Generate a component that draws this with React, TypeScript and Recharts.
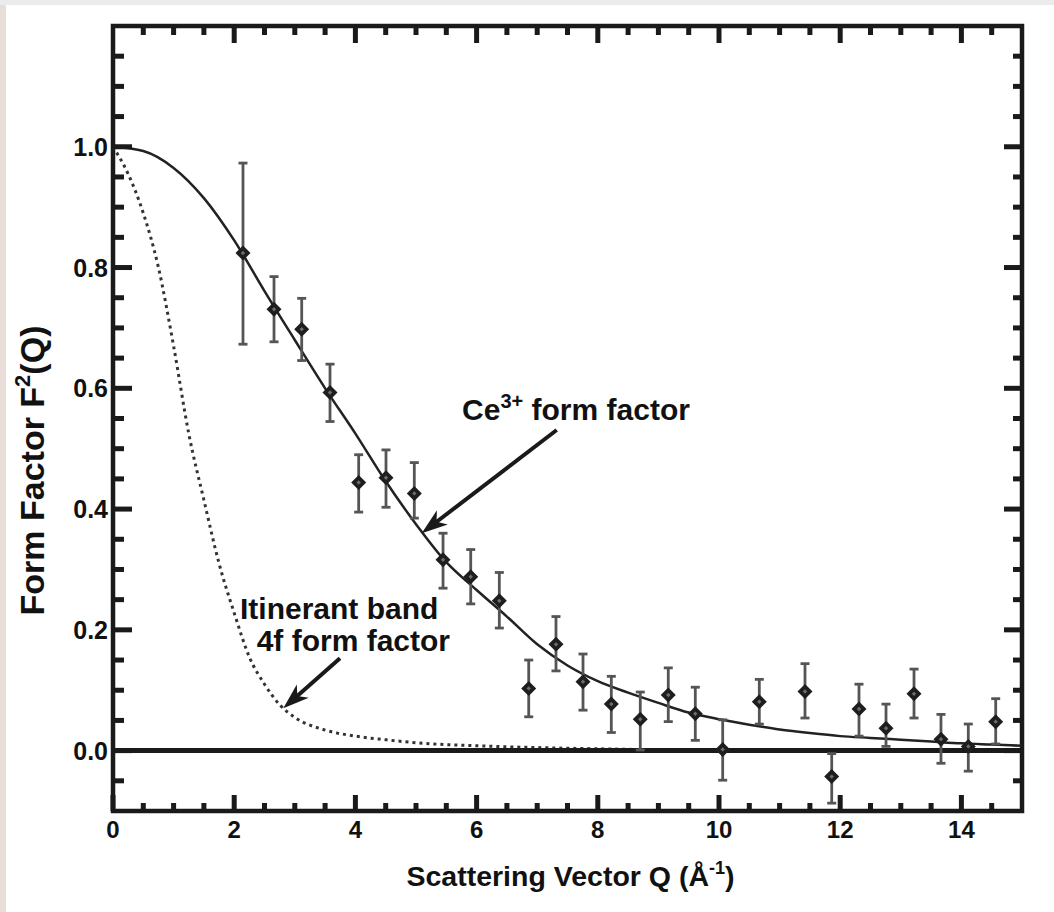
import React from 'react';
import {
  ComposedChart,
  Line,
  Scatter,
  XAxis,
  YAxis,
  ErrorBar,
  ReferenceLine,
  ReferenceArea,
  ReferenceDot,
  Label,
} from 'recharts';

// ---- measured data points (Q in 1/Å, F^2(Q)) ----
const qPts = [2.145, 2.657, 3.114, 3.581, 4.054, 4.505, 4.972, 5.446, 5.903, 6.375, 6.86, 7.31, 7.756, 8.223, 8.701, 9.163, 9.609, 10.061, 10.665, 11.419, 11.86, 12.31, 12.756, 13.218, 13.663, 14.114, 14.566];
const fPts = [0.824, 0.731, 0.698, 0.593, 0.444, 0.452, 0.426, 0.316, 0.288, 0.248, 0.103, 0.176, 0.114, 0.077, 0.052, 0.092, 0.061, 0.002, 0.081, 0.098, -0.043, 0.069, 0.037, 0.094, 0.019, 0.007, 0.048];
const fHi = [0.973, 0.785, 0.749, 0.64, 0.49, 0.498, 0.477, 0.36, 0.333, 0.295, 0.15, 0.222, 0.16, 0.123, 0.097, 0.137, 0.105, 0.051, 0.118, 0.144, -0.005, 0.11, 0.077, 0.135, 0.06, 0.044, 0.086];
const fLo = [0.673, 0.677, 0.646, 0.545, 0.395, 0.403, 0.385, 0.269, 0.243, 0.203, 0.056, 0.132, 0.067, 0.03, 0.001, 0.048, 0.017, -0.049, 0.044, 0.054, -0.087, 0.024, 0.007, 0.054, -0.021, -0.034, 0.011];

// ---- Ce3+ form factor curve ----
const qCe = [0, 0.5, 1, 1.5, 2, 2.5, 3, 3.5, 4, 4.5, 5, 5.5, 6, 6.5, 7, 7.5, 8, 8.5, 9, 9.5, 10, 10.5, 11, 11.5, 12, 12.5, 13, 13.5, 14, 14.5, 15];
const fCe = [1.0, 0.993, 0.965, 0.915, 0.845, 0.761, 0.68, 0.6, 0.525, 0.446, 0.375, 0.312, 0.266, 0.222, 0.176, 0.141, 0.115, 0.096, 0.079, 0.063, 0.052, 0.043, 0.035, 0.029, 0.024, 0.021, 0.018, 0.015, 0.012, 0.01, 0.008];

// ---- itinerant band 4f form factor curve ----
const qItin = [0, 0.25, 0.5, 0.75, 1, 1.25, 1.5, 1.75, 2, 2.25, 2.5, 2.75, 3, 3.5, 4, 4.5, 5, 6, 7, 8, 8.6];
const fItin = [1.0, 0.955, 0.89, 0.8, 0.67, 0.525, 0.415, 0.31, 0.228, 0.155, 0.11, 0.076, 0.055, 0.034, 0.024, 0.018, 0.013, 0.008, 0.005, 0.003, 0.002];

// ---- tick labels ----
const xTickLabels = [0, 2, 4, 6, 8, 10, 12, 14];
const yTickLabels = [0, 0.2, 0.4, 0.6, 0.8, 1.0];

// ---- annotations (data coordinates) ----
const ceText = { q: 5.76, v: 0.5475 };
const ceArrow = { q1: 7.322, v1: 0.531, q2: 5.094, v2: 0.36 };
const itinText1 = { q: 2.096, v: 0.2175 };
const itinText2 = { q: 2.371, v: 0.1656 };
const itinArrow = { q1: 3.746, v1: 0.153, q2: 2.81, v2: 0.07 };

const xTickVals = Array.from({ length: 30 }, (_, i) => i * 0.5);
const yTickVals = Array.from({ length: 25 }, (_, i) => Math.round((-0.05 + i * 0.05) * 100) / 100);

const ptData = qPts.map((q, i) => ({ q, f: fPts[i], err: [fPts[i] - fLo[i], fHi[i] - fPts[i]] }));
const ceData = qCe.map((q, i) => ({ q, ce: fCe[i] }));
const itinData = qItin.map((q, i) => ({ q, itin: fItin[i] }));

const INK = '#1a1a1a';
const FONT = '"Liberation Sans", Arial, Helvetica, sans-serif';
const TICK_W = 5;

const near = (arr: number[], v: number) => arr.some((a) => Math.abs(a - v) < 1e-6);

function BottomTick(props: any) {
  const { x, y, payload } = props;
  const v = payload.value;
  const major = near(xTickLabels, v);
  return (
    <g>
      <line x1={x} x2={x} y1={y} y2={y - (major ? 16 : 8)} stroke={INK} strokeWidth={TICK_W} />
      {major && (
        <text x={x} y={y + 27} textAnchor="middle" fontFamily={FONT} fontWeight="bold" fontSize={24} fill="#111">
          {v}
        </text>
      )}
    </g>
  );
}

function TopTick(props: any) {
  const { x, y, payload } = props;
  const v = payload.value;
  if (v === 0) return <g />;
  const major = near(xTickLabels, v);
  return <line x1={x} x2={x} y1={y} y2={y + (major ? 17 : 9)} stroke={INK} strokeWidth={TICK_W} />;
}

function LeftTick(props: any) {
  const { x, y, payload } = props;
  const v = payload.value;
  const major = near(yTickLabels, v);
  return (
    <g>
      <line x1={x} x2={x + (major ? 19 : 11)} y1={y} y2={y} stroke={INK} strokeWidth={TICK_W} />
      {major && (
        <text x={x - 5} y={y} dy="0.36em" textAnchor="end" fontFamily={FONT} fontWeight="bold" fontSize={25} fill="#111">
          {v.toFixed(1)}
        </text>
      )}
    </g>
  );
}

function RightTick(props: any) {
  const { x, y, payload } = props;
  const v = payload.value;
  const major = near(yTickLabels, v);
  return <line x1={x} x2={x - (major ? 18 : 9)} y1={y} y2={y} stroke={INK} strokeWidth={TICK_W} />;
}

function Diamond(props: any) {
  const { cx, cy } = props;
  if (cx == null || cy == null) return <g />;
  const s = 7.5;
  const t = 2.2;
  return (
    <g>
      <polygon points={`${cx},${cy - s} ${cx + s},${cy} ${cx},${cy + s} ${cx - s},${cy}`} fill="#1e1e1e" />
      <polygon points={`${cx},${cy - t} ${cx + t},${cy} ${cx},${cy + t} ${cx - t},${cy}`} fill="#6e6e6e" />
    </g>
  );
}

function Arrow(props: any) {
  const { x1, y1, x2, y2 } = props;
  const dx = x1 - x2;
  const dy = y1 - y2;
  const len = Math.sqrt(dx * dx + dy * dy) || 1;
  const ux = dx / len;
  const uy = dy / len;
  const nx = -uy;
  const ny = ux;
  const L = 26;
  const W = 9;
  const p1 = `${x2},${y2}`;
  const p2 = `${x2 + ux * L + nx * W},${y2 + uy * L + ny * W}`;
  const p3 = `${x2 + ux * L * 0.72},${y2 + uy * L * 0.72}`;
  const p4 = `${x2 + ux * L - nx * W},${y2 + uy * L - ny * W}`;
  return (
    <g>
      <line x1={x1} y1={y1} x2={x2 + ux * L * 0.6} y2={y2 + uy * L * 0.6} stroke={INK} strokeWidth={4} />
      <polygon points={`${p1} ${p2} ${p3} ${p4}`} fill={INK} />
    </g>
  );
}

function XTitle(props: any) {
  const vb = props.viewBox || { x: 105, y: 803, width: 909, height: 80 };
  const cx = vb.x + vb.width / 2 + 3;
  const by = vb.y + 75;
  return (
    <text x={cx} y={by} textAnchor="middle" fontFamily={FONT} fontWeight="bold" fontSize={28.5} fill="#111">
      Scattering Vector Q (Å<tspan fontSize={18} dy={-12}>-1</tspan><tspan dy={12}>)</tspan>
    </text>
  );
}

function YTitle(props: any) {
  const vb = props.viewBox || { x: 5, y: 18, width: 100, height: 785 };
  const x = vb.x + 31;
  const y = vb.y + vb.height / 2 + 52;
  return (
    <text x={x} y={y} transform={`rotate(-90, ${x}, ${y})`} textAnchor="middle" fontFamily={FONT} fontWeight="bold" fontSize={34} fill="#111">
      Form Factor F<tspan fontSize={22} dy={-14}>2</tspan><tspan dy={14}>(Q)</tspan>
    </text>
  );
}

export default function App() {
  return (
    <div style={{ position: 'relative' }}>
      <div style={{ position: 'fixed', left: 0, top: 0, width: 6, height: 912, background: '#e8ddd8' }} />
      <div style={{ position: 'fixed', left: 0, top: 0, width: 1054, height: 5, background: '#ebebeb' }} />
      <ComposedChart width={1038} height={890} margin={{ top: 17, right: 23, bottom: 7, left: 5 }}>
        <XAxis
          xAxisId="b"
          dataKey="q"
          type="number"
          orientation="bottom"
          domain={[0, 15]}
          allowDataOverflow
          ticks={xTickVals}
          interval={0}
          tickSize={0}
          tickMargin={0}
          tickLine={false}
          axisLine={false}
          tick={BottomTick}
          height={80}
        >
          <Label content={XTitle} />
        </XAxis>
        <XAxis
          xAxisId="t"
          dataKey="q"
          type="number"
          orientation="top"
          domain={[0, 15]}
          allowDataOverflow
          ticks={xTickVals}
          interval={0}
          tickSize={0}
          tickMargin={0}
          tickLine={false}
          axisLine={false}
          tick={TopTick}
          height={1}
        />
        <YAxis
          yAxisId="l"
          type="number"
          orientation="left"
          domain={[-0.1, 1.2]}
          allowDataOverflow
          ticks={yTickVals}
          interval={0}
          tickSize={0}
          tickMargin={0}
          tickLine={false}
          axisLine={false}
          tick={LeftTick}
          width={100}
        >
          <Label content={YTitle} />
        </YAxis>
        <YAxis
          yAxisId="r"
          type="number"
          orientation="right"
          domain={[-0.1, 1.2]}
          allowDataOverflow
          ticks={yTickVals}
          interval={0}
          tickSize={0}
          tickMargin={0}
          tickLine={false}
          axisLine={false}
          tick={RightTick}
          width={1}
        />

        <ReferenceArea
          xAxisId="b"
          yAxisId="l"
          x1={0}
          x2={15}
          y1={-0.1}
          y2={1.2}
          fill="none"
          fillOpacity={0}
          stroke={INK}
          strokeWidth={4.5}
          ifOverflow="visible"
        />

        <Line
          xAxisId="b"
          yAxisId="l"
          data={itinData}
          dataKey="itin"
          type="monotone"
          stroke="#333"
          strokeWidth={3}
          strokeDasharray="3 4"
          dot={false}
          activeDot={false}
          isAnimationActive={false}
        />
        <ReferenceLine xAxisId="b" yAxisId="l" y={0} stroke={INK} strokeWidth={5} />
        <Line
          xAxisId="b"
          yAxisId="l"
          data={ceData}
          dataKey="ce"
          type="monotone"
          stroke="#222"
          strokeWidth={2.5}
          dot={false}
          activeDot={false}
          isAnimationActive={false}
        />
        <Scatter xAxisId="b" yAxisId="l" data={ptData} dataKey="f" shape={Diamond} isAnimationActive={false}>
          <ErrorBar dataKey="err" direction="y" width={4.5} stroke="#555" strokeWidth={2.8} isAnimationActive={false} />
        </Scatter>

        <ReferenceLine
          xAxisId="b"
          yAxisId="l"
          segment={[
            { x: ceArrow.q1, y: ceArrow.v1 },
            { x: ceArrow.q2, y: ceArrow.v2 },
          ]}
          shape={Arrow}
          ifOverflow="visible"
        />
        <ReferenceLine
          xAxisId="b"
          yAxisId="l"
          segment={[
            { x: itinArrow.q1, y: itinArrow.v1 },
            { x: itinArrow.q2, y: itinArrow.v2 },
          ]}
          shape={Arrow}
          ifOverflow="visible"
        />
        <ReferenceDot
          xAxisId="b"
          yAxisId="l"
          x={ceText.q}
          y={ceText.v}
          r={0}
          ifOverflow="visible"
          shape={(p: any) => (
            <text x={p.cx} y={p.cy} fontFamily={FONT} fontWeight="bold" fontSize={30} fill="#111">
              Ce<tspan fontSize={20} dy={-12}>3+</tspan>
              <tspan dy={12}> form factor</tspan>
            </text>
          )}
        />
        <ReferenceDot
          xAxisId="b"
          yAxisId="l"
          x={itinText1.q}
          y={itinText1.v}
          r={0}
          ifOverflow="visible"
          shape={(p: any) => (
            <text x={p.cx} y={p.cy} fontFamily={FONT} fontWeight="bold" fontSize={30} fill="#111">
              Itinerant band
            </text>
          )}
        />
        <ReferenceDot
          xAxisId="b"
          yAxisId="l"
          x={itinText2.q}
          y={itinText2.v}
          r={0}
          ifOverflow="visible"
          shape={(p: any) => (
            <text x={p.cx} y={p.cy} fontFamily={FONT} fontWeight="bold" fontSize={30} fill="#111">
              4f form factor
            </text>
          )}
        />
      </ComposedChart>
    </div>
  );
}
